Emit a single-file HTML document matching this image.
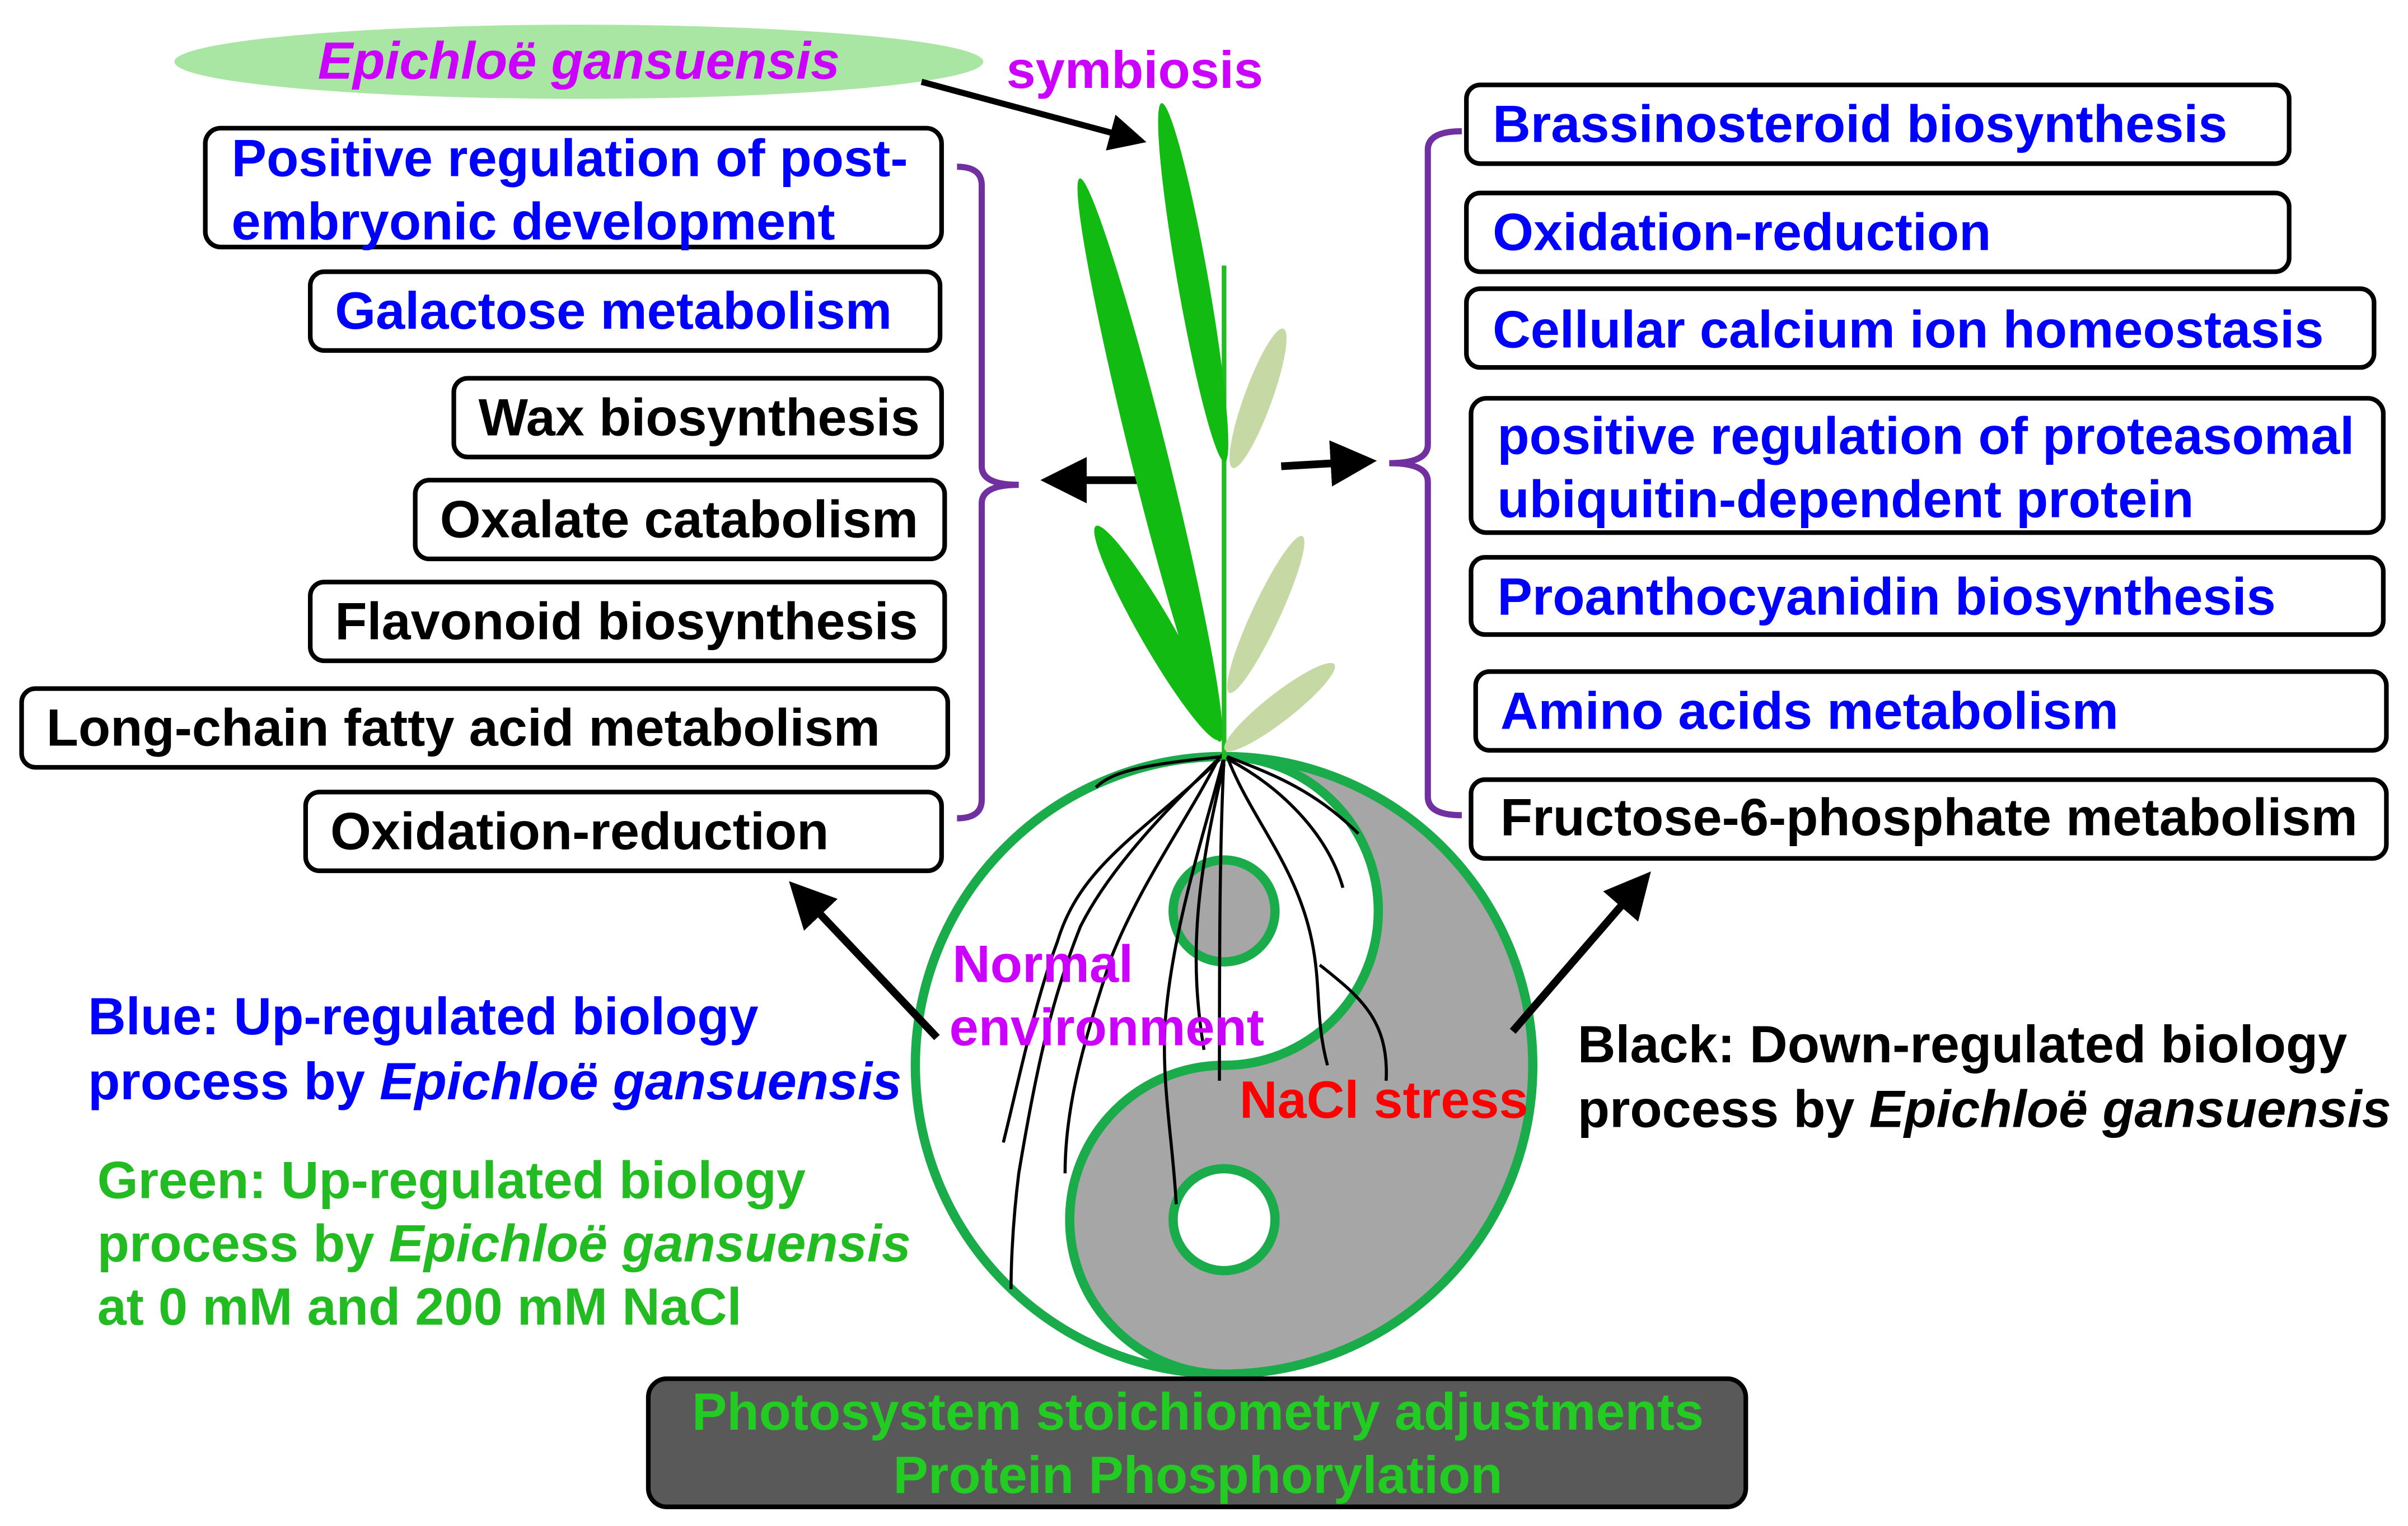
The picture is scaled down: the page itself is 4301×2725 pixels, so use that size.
<!DOCTYPE html>
<html><head><meta charset="utf-8"><style>
html,body{margin:0;padding:0;background:#fff;}
svg{display:block}
text{font-family:"Liberation Sans",Arial,sans-serif;font-weight:bold;font-size:34px;}
</style></head><body>
<svg width="4301" height="2725" viewBox="0 0 1560 988.4" preserveAspectRatio="none" xmlns="http://www.w3.org/2000/svg">
<defs>
<marker id="ah" markerWidth="6" markerHeight="6" refX="4" refY="3" orient="auto" markerUnits="strokeWidth">
<path d="M0,0 L6,3 L0,6 z" fill="#000"/></marker>
</defs>
<rect width="1560" height="988.4" fill="#fff"/>

<ellipse cx="375" cy="40" rx="262" ry="24" fill="#a9e6a4"/>
<text x="375" y="51" text-anchor="middle" font-style="italic" fill="#cc00ff">Epichloë gansuensis</text>
<text x="652" y="57" fill="#cc00ff" font-size="31">symbiosis</text>
<line x1="597" y1="53" x2="735" y2="90" stroke="#000" stroke-width="4" marker-end="url(#ah)"/>

<g fill="#fff" stroke="#000" stroke-width="3">
<rect x="133" y="83" width="477" height="77" rx="10"/>
<rect x="201" y="176" width="408" height="51" rx="9"/>
<rect x="294" y="245" width="316" height="51" rx="9"/>
<rect x="269" y="311" width="343" height="51" rx="9"/>
<rect x="201" y="377" width="411" height="51" rx="9"/>
<rect x="14" y="446" width="600" height="51" rx="9"/>
<rect x="198" y="513" width="412" height="51" rx="9"/>
</g>
<text x="150" y="114" fill="#0000ff">Positive regulation of post-</text>
<text x="150" y="155" fill="#0000ff">embryonic development</text>
<text x="217" y="213" fill="#0000ff">Galactose metabolism</text>
<text x="310" y="282" fill="#000">Wax biosynthesis</text>
<text x="285" y="348" fill="#000">Oxalate catabolism</text>
<text x="217" y="414" fill="#000">Flavonoid biosynthesis</text>
<text x="30" y="483" fill="#000">Long-chain fatty acid metabolism</text>
<text x="214" y="550" fill="#000">Oxidation-reduction</text>

<path d="M620,108 Q636,108 636,120 L636,302 Q636,314 660,314 Q636,314 636,326 L636,518 Q636,530 620,530" fill="none" stroke="#7030a0" stroke-width="4"/>
<line x1="737" y1="311" x2="684" y2="311" stroke="#000" stroke-width="5" marker-end="url(#ah)"/>

<g fill="#fff" stroke="#000" stroke-width="3">
<rect x="950" y="55" width="533" height="51" rx="9"/>
<rect x="950" y="125" width="533" height="51" rx="9"/>
<rect x="950" y="187" width="588" height="51" rx="9"/>
<rect x="953" y="258" width="591" height="87" rx="10"/>
<rect x="953" y="361" width="591" height="50" rx="9"/>
<rect x="956" y="435" width="590" height="51" rx="9"/>
<rect x="953" y="505" width="593" height="51" rx="9"/>
</g>
<text x="967" y="92" fill="#0000ff">Brassinosteroid biosynthesis</text>
<text x="967" y="162" fill="#0000ff">Oxidation-reduction</text>
<text x="967" y="225" fill="#0000ff">Cellular calcium ion homeostasis</text>
<text x="970" y="294" fill="#0000ff">positive regulation of proteasomal</text>
<text x="970" y="335" fill="#0000ff">ubiquitin-dependent protein</text>
<text x="970" y="398" fill="#0000ff">Proanthocyanidin biosynthesis</text>
<text x="972" y="472" fill="#0000ff">Amino acids metabolism</text>
<text x="972" y="541" fill="#000">Fructose-6-phosphate metabolism</text>

<path d="M947,85 Q925,85 925,97 L925,288 Q925,300 900,300 Q925,300 925,312 L925,516 Q925,528 947,528" fill="none" stroke="#7030a0" stroke-width="4"/>
<line x1="830" y1="302" x2="882" y2="299" stroke="#000" stroke-width="5" marker-end="url(#ah)"/>

<circle cx="793" cy="690" r="200" fill="#fff"/>
<path d="M793,490 A100,100 0 0 1 793,690 A100,100 0 0 0 793,890 A200,200 0 0 0 793,490 Z" fill="#a6a6a6"/>
<path d="M793,490 A100,100 0 0 1 793,690 A100,100 0 0 0 793,890" fill="none" stroke="#1aab4a" stroke-width="6"/>
<circle cx="793" cy="690" r="200" fill="none" stroke="#1aab4a" stroke-width="6"/>
<circle cx="793" cy="590" r="33" fill="#a6a6a6" stroke="#1aab4a" stroke-width="6"/>
<circle cx="793" cy="790" r="33" fill="#fff" stroke="#1aab4a" stroke-width="6"/>

<g fill="none" stroke="#000" stroke-width="2">
<path d="M793,488 C760,520 720,560 700,600 C680,650 670,700 660,760 C655,800 655,830 655,835"/>
<path d="M790,490 C770,530 740,570 720,620 C700,680 690,720 690,760"/>
<path d="M793,490 C780,540 760,600 755,660 C752,700 760,740 762,780"/>
<path d="M793,490 C790,550 790,620 790,700"/>
<path d="M795,490 C810,530 840,560 850,610 C856,640 852,660 860,690"/>
<path d="M796,492 C830,510 860,540 870,575"/>
<path d="M795,490 C820,500 850,510 880,540"/>
<path d="M793,490 C740,495 720,500 710,510"/>
<path d="M790,492 C740,540 700,560 685,610 C670,650 660,700 650,740"/>
<path d="M855,625 C880,645 900,660 898,700"/>
<path d="M793,495 C775,570 770,620 780,680"/>
</g>

<line x1="793" y1="172" x2="793" y2="492" stroke="#22bb22" stroke-width="3"/>
<ellipse cx="773" cy="183" rx="10" ry="118" transform="rotate(-10 773 183)" fill="#11bb11"/>
<ellipse cx="745" cy="298" rx="12" ry="188" transform="rotate(-14 745 298)" fill="#11bb11"/>
<ellipse cx="750" cy="410" rx="11" ry="80" transform="rotate(-30 750 410)" fill="#11bb11"/>
<ellipse cx="815" cy="258" rx="9" ry="48" transform="rotate(20 815 258)" fill="#c6d9a4"/>
<ellipse cx="820" cy="398" rx="9" ry="56" transform="rotate(25 820 398)" fill="#c6d9a4"/>
<ellipse cx="829" cy="458" rx="9" ry="45" transform="rotate(52 829 458)" fill="#c6d9a4"/>

<text x="617" y="636" fill="#cc00ff">Normal</text>
<text x="615" y="677" fill="#cc00ff">environment</text>
<text x="803" y="724" fill="#ff0000">NaCl stress</text>

<line x1="607" y1="672" x2="518" y2="578" stroke="#000" stroke-width="5" marker-end="url(#ah)"/>
<line x1="980" y1="668" x2="1063" y2="572" stroke="#000" stroke-width="5" marker-end="url(#ah)"/>

<text x="57" y="670" fill="#0000ff">Blue: Up-regulated biology</text>
<text x="57" y="712" fill="#0000ff">process by <tspan font-style="italic">Epichloë gansuensis</tspan></text>
<text x="63" y="776" fill="#22bb22">Green: Up-regulated biology</text>
<text x="63" y="817" fill="#22bb22">process by <tspan font-style="italic">Epichloë gansuensis</tspan></text>
<text x="63" y="858" fill="#22bb22">at  0 mM and 200 mM NaCl</text>
<text x="1022" y="688" fill="#000">Black: Down-regulated biology</text>
<text x="1022" y="730" fill="#000">process by <tspan font-style="italic">Epichloë gansuensis</tspan></text>

<rect x="420" y="893" width="711" height="83" rx="12" fill="#595959" stroke="#000" stroke-width="3"/>
<text x="776" y="926" text-anchor="middle" fill="#22cc22">Photosystem stoichiometry adjustments</text>
<text x="776" y="967" text-anchor="middle" fill="#22cc22">Protein Phosphorylation</text>
</svg>
</body></html>
